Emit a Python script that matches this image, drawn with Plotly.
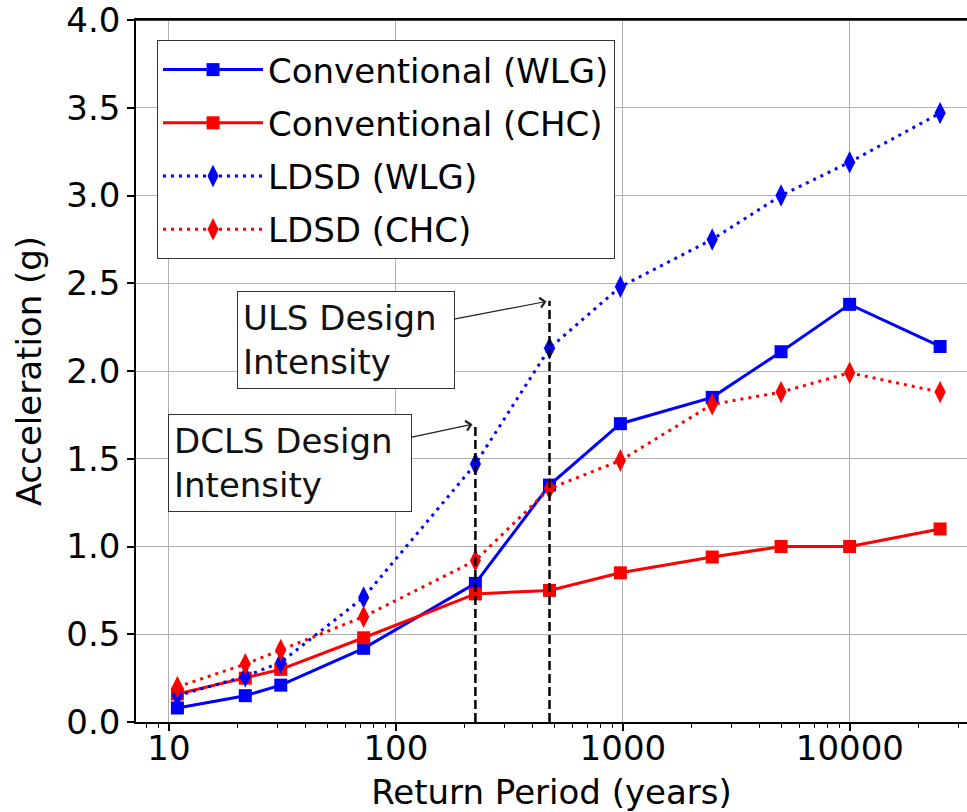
import math
import plotly.graph_objects as go

# ---------------- data ----------------
return_period = [10.9, 21.7, 31.1, 72.1, 224, 475, 975, 2475, 4975, 9975, 24975]
conv_wlg = [0.08, 0.15, 0.21, 0.42, 0.79, 1.35, 1.70, 1.85, 2.11, 2.38, 2.14]
conv_chc = [0.16, 0.25, 0.30, 0.48, 0.73, 0.75, 0.85, 0.94, 1.00, 1.00, 1.10]
ldsd_wlg = [0.15, 0.26, 0.34, 0.71, 1.47, 2.13, 2.48, 2.75, 3.00, 3.19, 3.47]
ldsd_chc = [0.20, 0.33, 0.41, 0.60, 0.92, 1.33, 1.49, 1.81, 1.88, 1.99, 1.88]
series_names = ["Conventional (WLG)", "Conventional (CHC)", "LDSD (WLG)", "LDSD (CHC)"]

design_labels = ["DCLS Design<br>Intensity", "ULS Design<br>Intensity"]
design_periods = [224, 475]
design_heights = [1.70, 2.40]

x_tick_vals = [10, 100, 1000, 10000]
x_tick_text = ["10", "100", "1000", "10000"]
y_tick_vals = [0.0, 0.5, 1.0, 1.5, 2.0, 2.5, 3.0, 3.5, 4.0]

FONT = "DejaVu Sans"
FS = 34

fig = go.Figure()

styles = [
    dict(color="#0000ff", dash="solid", symbol="square", size=13),
    dict(color="#ff0000", dash="solid", symbol="square", size=13),
    dict(color="#0000ff", dash="3px,5px", symbol="diamond-tall", size=16),
    dict(color="#ff0000", dash="3px,5px", symbol="diamond-tall", size=16),
]
series = [conv_wlg, conv_chc, ldsd_wlg, ldsd_chc]

for name, vals, st in zip(series_names, series, styles):
    fig.add_trace(go.Scatter(
        x=return_period, y=vals, name=name, mode="lines+markers",
        line=dict(color=st["color"], width=3, dash=st["dash"]),
        marker=dict(symbol=st["symbol"], size=st["size"], color=st["color"],
                    line=dict(width=0)),
        legendgroup=name,
    ))

# design intensity vertical dashed lines
for p, h in zip(design_periods, design_heights):
    fig.add_trace(go.Scatter(
        x=[p, p], y=[0, h], mode="lines", showlegend=False,
        line=dict(color="black", width=2.5, dash="9px,4px"),
        hoverinfo="skip",
    ))

# annotations with arrows
ann_offsets = [(-185, 39, 232), (-204, 39, 206)]
for lab, p, h, (ax, ay, w) in zip(design_labels, design_periods, design_heights, ann_offsets):
    fig.add_annotation(
        x=math.log10(p), y=h, xref="x", yref="y",
        text=lab, showarrow=True, ax=ax, ay=ay,
        arrowhead=4, arrowsize=1.6, arrowwidth=1.2, arrowcolor="#222",
        standoff=3,
        font=dict(family=FONT, size=FS, color="#111"),
        align="left", width=w, height=86,
        bgcolor="white", bordercolor="#333", borderwidth=1, borderpad=5,
    )

# top frame line
fig.add_shape(type="line", xref="paper", yref="paper", x0=0, x1=1, y0=1, y1=1,
              line=dict(color="black", width=1.5), layer="above")

minor_vals = [m * 10 ** k for k in range(0, 5) for m in range(2, 10)]

fig.update_xaxes(
    type="log", range=[0.855, 4.516],
    tickmode="array", tickvals=x_tick_vals, ticktext=x_tick_text,
    ticks="outside", ticklen=7, tickwidth=1.5, tickcolor="black",
    ticklabelstandoff=-12,
    minor=dict(tickmode="array", tickvals=minor_vals, ticks="outside",
               ticklen=4, tickwidth=1, tickcolor="black", showgrid=False),
    showgrid=True, gridcolor="#b0b0b0", gridwidth=1,
    showline=True, linecolor="black", linewidth=1.5, mirror=True,
    tickfont=dict(family=FONT, size=FS, color="black"),
    title=dict(text="Return Period (years)", font=dict(family=FONT, size=FS, color="black"),
               standoff=14),
    zeroline=False,
)
fig.update_yaxes(
    range=[0, 4.0005], tickmode="array", tickvals=y_tick_vals, tickformat=".1f",
    ticks="outside", ticklen=7, tickwidth=1.5, tickcolor="black",
    ticklabeloverflow="allow",
    showgrid=True, gridcolor="#b0b0b0", gridwidth=1,
    showline=True, linecolor="black", linewidth=1.5, mirror=False,
    tickfont=dict(family=FONT, size=FS, color="black"),
    title=dict(text="Acceleration (g)", font=dict(family=FONT, size=FS, color="black"),
               standoff=14),
    zeroline=False,
)

fig.update_layout(
    width=967, height=812,
    margin=dict(l=136, r=0, t=20, b=90, autoexpand=False),
    plot_bgcolor="white", paper_bgcolor="white",
    font=dict(family=FONT, size=FS, color="black"),
    legend=dict(
        x=0.0253, y=0.9715, xanchor="left", yanchor="top",
        bgcolor="white", bordercolor="#333", borderwidth=1,
        font=dict(family=FONT, size=FS, color="black"),
        itemwidth=100, tracegroupgap=6,
    ),
    showlegend=True,
)

fig.write_html("out.html")
